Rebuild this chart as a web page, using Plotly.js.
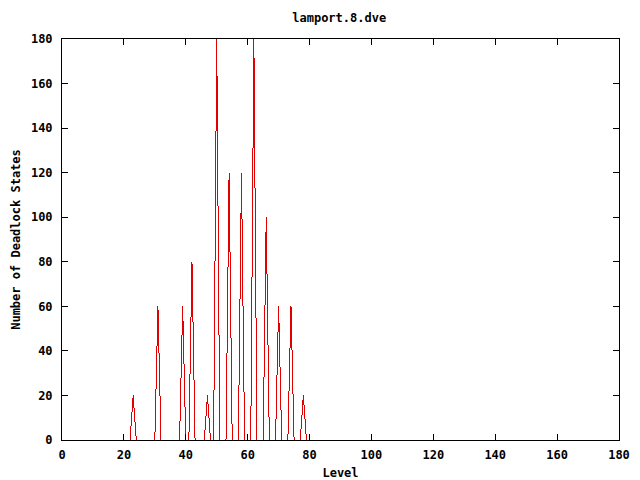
<!DOCTYPE html>
<html>
<head>
<meta charset="utf-8">
<script src="https://cdn.plot.ly/plotly-3.0.1.min.js"></script>
<style>
html,body{margin:0;padding:0;background:#fff;}
#chart{width:640px;height:480px;}
#chart .scatterlayer path{shape-rendering:crispEdges;}
</style>
</head>
<body>
<div id="chart"></div>
<script>
// Level (x) and number of deadlock states (y)
const levels = [21,22,23,24,25,26,27,28,29,30,31,32,33,34,35,36,37,38,39,40,41,42,43,44,45,46,47,48,49,50,51,52,53,54,55,56,57,58,59,60,61,62,63,64,65,66,67,68,69,70,71,72,73,74,75,76,77,78,79];
const deadlocks = [0,0,20,0,0,0,0,0,0,0,60,0,0,0,0,0,0,0,60,0,0,80,0,0,0,0,20,0,0,180,0,0,0,120,0,0,0,120,0,0,0,180,0,0,0,100,0,0,0,60,0,0,0,60,0,0,0,20,0];
const xTicks = [0,20,40,60,80,100,120,140,160,180];
const yTicks = [0,20,40,60,80,100,120,140,160,180];

const font = {family: '"DejaVu Sans Mono", "Liberation Mono", monospace', size: 12, color: '#000'};

const trace = {
  x: levels, y: deadlocks, type: 'scatter', mode: 'lines',
  line: {color: '#e00000', width: 1},
  hoverinfo: 'skip'
};

const axisCommon = {
  showline: true, mirror: 'ticks', linecolor: '#000', linewidth: 1,
  ticks: 'inside', ticklen: 6, tickwidth: 1, tickcolor: '#000',
  showgrid: false, zeroline: false, layer: 'above traces',
  tickfont: {family: font.family, size: 12, color: '#000', weight: 'bold'},
  tickmode: 'array', fixedrange: true
};

const layout = {
  width: 640, height: 480,
  margin: {l: 62, r: 21, t: 39, b: 40},
  paper_bgcolor: '#fff', plot_bgcolor: '#fff',
  showlegend: false,
  title: {text: '<b>lamport.8.dve</b>', font: {family: font.family, size: 12, color: '#000'}, x: 0.53, xanchor: 'center', y: 0.962, yanchor: 'middle'},
  xaxis: Object.assign({}, axisCommon, {
    range: [0, 180], tickvals: xTicks, ticktext: xTicks.map(String),
    ticklabelstandoff: 4,
    title: {text: '<b>Level</b>', font: {family: font.family, size: 12, color: '#000'}, standoff: 8}
  }),
  yaxis: Object.assign({}, axisCommon, {
    range: [0, 180], tickvals: yTicks, ticktext: yTicks.map(String),
    ticklabelstandoff: 6,
    title: {text: '<b>Number of Deadlock States</b>', font: {family: font.family, size: 12, color: '#000'}, standoff: 7}
  })
};

Plotly.newPlot('chart', [trace], layout, {displayModeBar: false, staticPlot: true});
</script>
</body>
</html>
